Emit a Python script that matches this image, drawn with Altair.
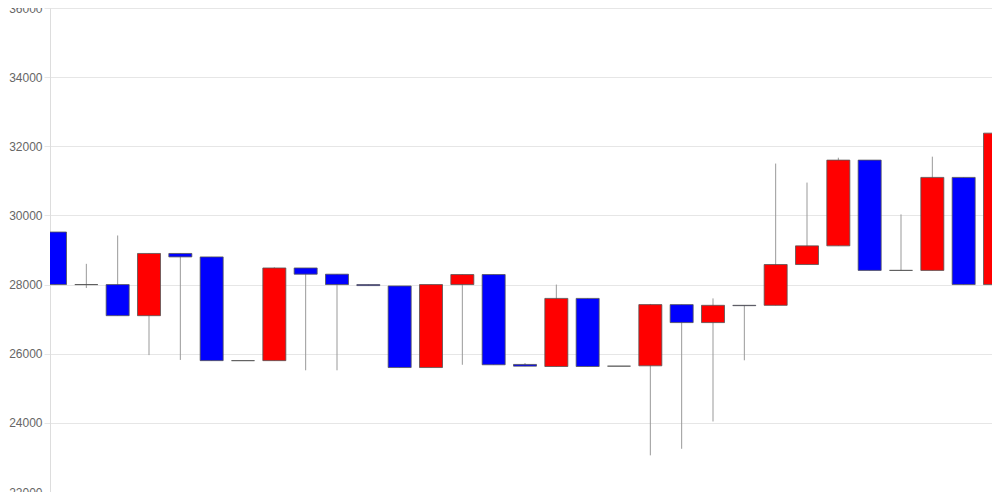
import altair as alt
import pandas as pd

opens = [29520, 28000, 28000, 27100, 28900, 28800, 25800, 25800, 28480, 28300,
         28000, 27960, 25600, 28000, 28290, 25690, 25630, 27600, 25640, 25650,
         27420, 26900, 27400, 27400, 28580, 29120, 31600, 28410, 28410, 31100, 28000]
closes = [28000, 28000, 27100, 28900, 28800, 25800, 25800, 28480, 28300, 28000,
          27970, 25600, 28000, 28290, 25680, 25640, 27600, 25630, 25640, 27420,
          26900, 27400, 27390, 28580, 29120, 31600, 28410, 28410, 31100, 28000, 32380]
highs = [29520, 28600, 29420, 28900, 28900, 28800, 25800, 28500, 28480, 28300,
         28000, 27960, 28000, 28290, 28290, 25730, 28000, 27600, 25640, 27440,
         27420, 27600, 27400, 31500, 30950, 31670, 31600, 30030, 31700, 31100, 33530]
lows = [28000, 27900, 27100, 25960, 25820, 25800, 25800, 25800, 25520, 25520,
        27970, 25600, 25600, 25680, 25680, 25640, 25630, 25630, 25640, 23060,
        23250, 24040, 25810, 27400, 28580, 29120, 28410, 28410, 28410, 28000, 28000]
y_ticks = [22000, 24000, 26000, 28000, 30000, 32000, 34000, 36000]

df = pd.DataFrame({
    "i": list(range(len(opens))),
    "open": opens, "close": closes, "high": highs, "low": lows,
})
df["dir"] = ["up" if c >= o else "down" for o, c in zip(opens, closes)]

x = alt.X("i:Q", scale=alt.Scale(domain=[0, len(opens) - 1], range=[0, 950], nice=False, zero=False), axis=None)
yscale = alt.Scale(domain=[22000, 36000], range=[484, 0], nice=False, zero=False)

wicks = alt.Chart(df).mark_rule(color="#999999", strokeWidth=1, clip=True).encode(
    x=x,
    y=alt.Y("low:Q", scale=yscale,
            axis=alt.Axis(values=y_ticks, format="d",
                          title=None, labelColor="#666666", labelFontSize=12,
                          labelFont="Liberation Sans", tickSize=6, tickColor="#e6e6e6",
                          gridColor="#e6e6e6", domainColor="#dddddd", labelPadding=2,
                          labelFlush=False, labelOverlap=False)),
    y2="high:Q",
)

bodies = alt.Chart(df).mark_bar(size=23, stroke="#555555", strokeWidth=1, strokeOpacity=0.8, clip=True).encode(
    x=x,
    y=alt.Y("open:Q", scale=yscale),
    y2="close:Q",
    color=alt.Color("dir:N", scale=alt.Scale(domain=["up", "down"], range=["#ff0000", "#0000ff"]), legend=None),
)

chart = alt.layer(wicks, bodies).properties(
    width=942, height=484,
    autosize=alt.AutoSizeParams(type="none"),
    padding={"left": 42, "top": 0, "right": 0, "bottom": 0},
).configure_view(stroke=None).configure(background="white")

chart.save("out.html", embed_options={"renderer": "svg", "actions": False})
